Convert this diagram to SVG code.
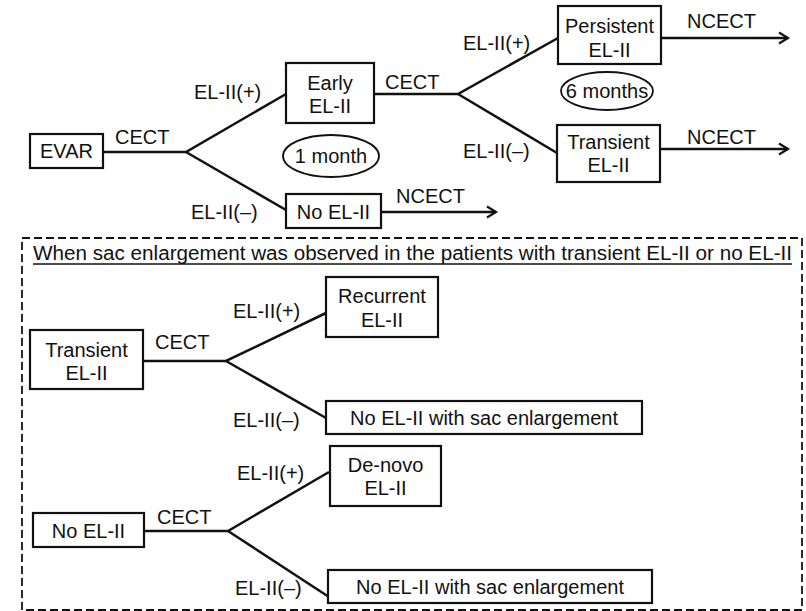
<svg xmlns="http://www.w3.org/2000/svg" width="806" height="611" viewBox="0 0 806 611">
<defs>
<style>
text{font-family:"Liberation Sans",Arial,sans-serif;font-size:20px;fill:#111;}
.m{text-anchor:middle;}
.box{fill:#fff;stroke:#111;stroke-width:2.2;}
.ln{fill:none;stroke:#111;stroke-width:2.5;}
.dash{fill:none;stroke:#111;stroke-width:1.8;stroke-dasharray:8 4;}
</style>
<marker id="arr" markerWidth="14" markerHeight="14" refX="11" refY="7" orient="auto" markerUnits="userSpaceOnUse">
<polyline points="2,1.5 11,7 2,12.5" fill="none" stroke="#111" stroke-width="2.2"/>
</marker>
</defs>
<rect width="806" height="611" fill="#fff"/>

<g id="connectors">
<polyline class="ln" points="103,152 186,152 286,94"/>
<line class="ln" x1="186" y1="152" x2="286" y2="210"/>
<polyline class="ln" points="374,94 458,94 558,38"/>
<line class="ln" x1="458" y1="94" x2="557" y2="153"/>
<line class="ln" x1="661" y1="38" x2="788" y2="38" marker-end="url(#arr)"/>
<line class="ln" x1="660" y1="149" x2="788" y2="149" marker-end="url(#arr)"/>
<line class="ln" x1="381" y1="212" x2="496" y2="212" marker-end="url(#arr)"/>
<polyline class="ln" points="143,361 226,361 326,313"/>
<line class="ln" x1="226" y1="361" x2="326" y2="418"/>
<polyline class="ln" points="144,531 228,531 329,472"/>
<line class="ln" x1="228" y1="531" x2="329" y2="597"/>
<text x="115" y="144">CECT</text>
<text x="194" y="99">EL-II(+)</text>
<text x="191" y="219">EL-II(–)</text>
<text x="385" y="89">CECT</text>
<text x="463" y="50">EL-II(+)</text>
<text x="463" y="158">EL-II(–)</text>
<text x="687" y="28">NCECT</text>
<text x="687" y="144">NCECT</text>
<text x="396" y="203">NCECT</text>
<text x="155" y="349">CECT</text>
<text x="233" y="318">EL-II(+)</text>
<text x="233" y="427">EL-II(–)</text>
<text x="157" y="524">CECT</text>
<text x="237" y="480">EL-II(+)</text>
<text x="235" y="595">EL-II(–)</text>
</g>

<g id="evar"><rect class="box" x="30" y="134" width="73" height="34"/><text class="m" x="66.5" y="158">EVAR</text></g>
<g id="early"><rect class="box" x="286" y="63" width="88" height="60"/><text class="m" x="330" y="90">Early</text><text class="m" x="330" y="113">EL-II</text></g>
<g id="noel"><rect class="box" x="286" y="194" width="95" height="34"/><text class="m" x="333.5" y="219">No EL-II</text></g>
<g id="month1"><ellipse cx="331" cy="156" rx="48" ry="21" fill="#fff" stroke="#111" stroke-width="1.8"/><text class="m" x="331" y="163">1 month</text></g>
<g id="persistent"><rect class="box" x="558" y="6" width="103" height="58"/><text class="m" x="609.5" y="33">Persistent</text><text class="m" x="609.5" y="57">EL-II</text></g>
<g id="transient"><rect class="box" x="557" y="125" width="103" height="57"/><text class="m" x="608.5" y="149">Transient</text><text class="m" x="608.5" y="172">EL-II</text></g>
<g id="months6"><ellipse cx="607" cy="91" rx="46" ry="19" fill="#fff" stroke="#111" stroke-width="1.8"/><text class="m" x="607" y="98">6 months</text></g>

<g id="subbox">
<rect class="dash" x="22" y="238" width="780" height="372"/>
<text x="33" y="260" textLength="759" lengthAdjust="spacingAndGlyphs">When sac enlargement was observed in the patients with transient EL-II or no EL-II</text>
<line x1="33" y1="264" x2="792" y2="264" stroke="#111" stroke-width="1.5"/>
</g>

<g id="transient2"><rect class="box" x="30" y="330" width="113" height="59"/><text class="m" x="86.5" y="357">Transient</text><text class="m" x="86.5" y="380">EL-II</text></g>
<g id="recurrent"><rect class="box" x="326" y="277" width="112" height="60"/><text class="m" x="382" y="303">Recurrent</text><text class="m" x="382" y="327">EL-II</text></g>
<g id="nosac1"><rect class="box" x="326" y="401" width="316" height="33"/><text class="m" x="484" y="425">No EL-II with sac enlargement</text></g>
<g id="noel2"><rect class="box" x="33" y="513" width="111" height="34"/><text class="m" x="88.5" y="538">No EL-II</text></g>
<g id="denovo"><rect class="box" x="330" y="446" width="111" height="60"/><text class="m" x="385.5" y="472">De-novo</text><text class="m" x="385.5" y="495">EL-II</text></g>
<g id="nosac2"><rect class="box" x="328" y="570" width="324" height="33"/><text class="m" x="490" y="594">No EL-II with sac enlargement</text></g>
</svg>
